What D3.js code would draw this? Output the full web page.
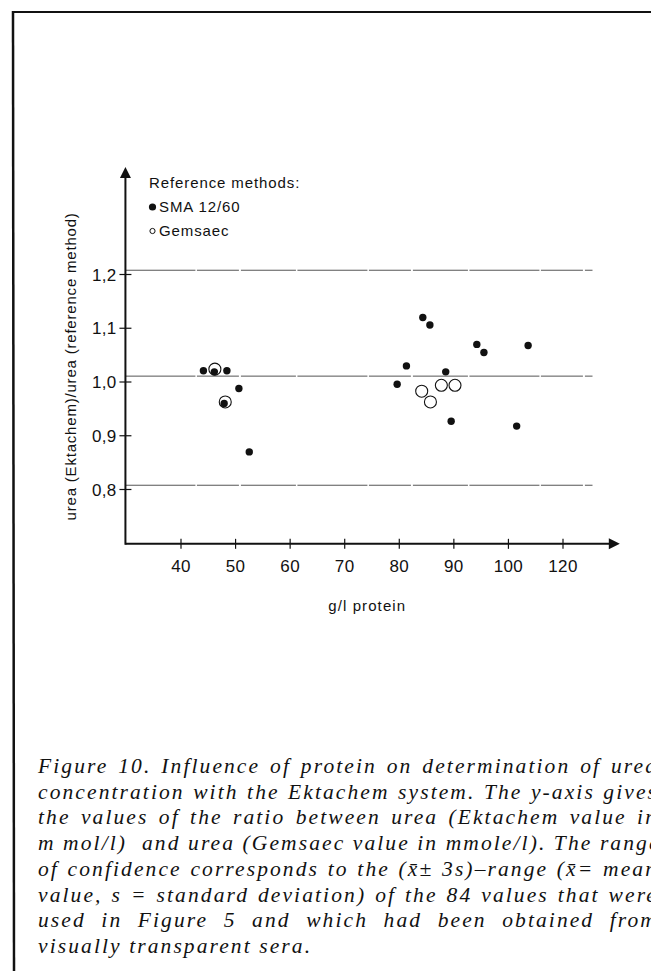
<!DOCTYPE html>
<html>
<head>
<meta charset="utf-8">
<script src="https://cdn.jsdelivr.net/npm/d3@7"></script>
<style>
  html, body { margin: 0; padding: 0; background: #fff; }
  svg { display: block; }
</style>
</head>
<body>
<svg id="chart" width="651" height="971"></svg>
<script>
// data (x in g/l protein, y = urea ratio)
var smaX = [44.2, 46.2, 48.5, 50.7, 48.0, 52.6,
            79.7, 81.4, 84.4, 85.7, 88.6, 89.6, 94.3, 95.6, 101.6, 103.7];
var smaY = [1.020, 1.018, 1.020, 0.987, 0.959, 0.869,
            0.995, 1.029, 1.119, 1.105, 1.018, 0.926, 1.069, 1.054, 0.917, 1.067];
var gemX = [46.3, 48.2, 84.2, 85.8, 87.8, 90.3];
var gemY = [1.023, 0.962, 0.982, 0.962, 0.993, 0.993];

// confidence range lines (mean - 3s, mean, mean + 3s)
var rangeLines = [0.807, 1.01, 1.207];

var xTicks = [40, 50, 60, 70, 80, 90, 100, 110];
var xTickLabels = ["40", "50", "60", "70", "80", "90", "100", "120"];
var yTicks = [0.8, 0.9, 1.0, 1.1, 1.2];
var yTickLabels = ["0,8", "0,9", "1,0", "1,1", "1,2"];

var legendTitle = "Reference methods:";
var legendItems = ["SMA 12/60", "Gemsaec"];

var xLabel = "g/l protein";
var yLabel = "urea (Ektachem)/urea (reference method)";

var captionLines = [
    "Figure 10. Influence of protein on determination of urea",
    "concentration with the Ektachem system. The y-axis gives",
    "the values of the ratio between urea (Ektachem value in",
    "m mol/l)  and urea (Gemsaec value in mmole/l). The range",
    "of confidence corresponds to the (x\u0304\u00b1 3s)\u2013range (x\u0304= mean",
    "value, s = standard deviation) of the 84 values that were",
    "used in Figure 5 and which had been obtained from",
    "visually transparent sera."
];

var svg = d3.select("#chart");
var sans = "'Liberation Sans', Arial, Helvetica, sans-serif";

var x = d3.scaleLinear().domain([40, 110]).range([180.5, 562.5]);
var y = d3.scaleLinear().domain([0.8, 1.2]).range([489, 274]);

var x0 = x(30) - 0.5, xEnd = x(120.5);
var y0 = y(0.698), yTop = y(1.399);

// page frame
svg.append("line").attr("x1", 12).attr("y1", 12).attr("x2", 651).attr("y2", 12)
    .attr("stroke", "#111").attr("stroke-width", 2.2);
svg.append("line").attr("x1", 13).attr("y1", 11).attr("x2", 14).attr("y2", 971)
    .attr("stroke", "#111").attr("stroke-width", 2.5);

// confidence lines
svg.selectAll(".range").data(rangeLines).enter().append("line")
    .attr("class", "range")
    .attr("x1", x0).attr("x2", x(115.5))
    .attr("y1", function(d) { return y(d); })
    .attr("y2", function(d) { return y(d); })
    .attr("stroke", "#555")
    .attr("stroke-width", 1)
    .attr("stroke-dasharray", "70,1.5,42,2,55,1.5");

// x axis
var xAxis = d3.axisBottom(x)
    .tickValues(xTicks)
    .tickFormat(function(d, i) { return xTickLabels[i]; })
    .tickSizeInner(5).tickSizeOuter(0);
var gx = svg.append("g").attr("transform", "translate(0," + y0 + ")").call(xAxis);
gx.select(".domain").remove();
gx.selectAll(".tick line").attr("y1", -5).attr("y2", 5).attr("stroke", "#111").attr("stroke-width", 1.2);
gx.selectAll(".tick text")
    .attr("y", 23).attr("dy", "0.32em")
    .attr("font-family", sans).attr("font-size", 17)
    .attr("letter-spacing", 0.4).attr("fill", "#111");

svg.append("line").attr("x1", x0).attr("x2", xEnd - 8)
    .attr("y1", y0).attr("y2", y0)
    .attr("stroke", "#111").attr("stroke-width", 2);
svg.append("path")
    .attr("d", "M" + xEnd + "," + y0 + " L" + (xEnd - 11) + "," + (y0 - 5.5) + " L" + (xEnd - 11) + "," + (y0 + 5.5) + " Z")
    .attr("fill", "#111");

// y axis
var yAxis = d3.axisLeft(y)
    .tickValues(yTicks)
    .tickFormat(function(d, i) { return yTickLabels[i]; })
    .tickSizeInner(5).tickSizeOuter(0);
var gy = svg.append("g").attr("transform", "translate(" + x0 + ",0)").call(yAxis);
gy.select(".domain").remove();
gy.selectAll(".tick line").attr("x1", -6).attr("x2", 6).attr("stroke", "#111").attr("stroke-width", 1.2);
gy.selectAll(".tick text")
    .attr("x", -9).attr("dy", "0.36em")
    .attr("font-family", sans).attr("font-size", 17)
    .attr("letter-spacing", 0.3).attr("fill", "#111");

svg.append("line").attr("x1", x0).attr("x2", x0)
    .attr("y1", y0 + 1).attr("y2", yTop + 8)
    .attr("stroke", "#111").attr("stroke-width", 2);
svg.append("path")
    .attr("d", "M" + x0 + "," + yTop + " L" + (x0 - 5.5) + "," + (yTop + 11) + " L" + (x0 + 5.5) + "," + (yTop + 11) + " Z")
    .attr("fill", "#111");

// axis titles
svg.append("text")
    .attr("x", (x(60) + x(80)) / 2 + 23).attr("y", y0 + 67)
    .attr("text-anchor", "middle")
    .attr("font-family", sans).attr("font-size", 15)
    .attr("letter-spacing", 1.1).attr("fill", "#111")
    .text(xLabel);

svg.append("text")
    .attr("transform", "translate(76," + ((y(1.0) + y(0.9)) / 2 - 42) + ") rotate(-90)")
    .attr("text-anchor", "middle")
    .attr("font-family", sans).attr("font-size", 15)
    .attr("letter-spacing", 0.8).attr("fill", "#111")
    .text(yLabel);

// points
svg.selectAll(".sma").data(smaX).enter().append("circle")
    .attr("class", "sma")
    .attr("cx", function(d) { return x(d); })
    .attr("cy", function(d, i) { return y(smaY[i]); })
    .attr("r", 3.7)
    .attr("fill", "#111");

svg.selectAll(".gem").data(gemX).enter().append("circle")
    .attr("class", "gem")
    .attr("cx", function(d) { return x(d); })
    .attr("cy", function(d, i) { return y(gemY[i]); })
    .attr("r", 6)
    .attr("fill", "none")
    .attr("stroke", "#111")
    .attr("stroke-width", 1.1);

// legend
var lg = svg.append("g").attr("transform", "translate(149,188)");
lg.append("text").attr("x", 0).attr("y", 0)
    .attr("font-family", sans).attr("font-size", 15)
    .attr("letter-spacing", 0.9).attr("fill", "#111")
    .text(legendTitle);
legendItems.forEach(function(name, i) {
    var ly = 24 + i * 23.5;
    if (i == 0) {
        lg.append("circle").attr("cx", 3.5).attr("cy", ly - 5).attr("r", 3.6).attr("fill", "#111");
    } else {
        lg.append("circle").attr("cx", 3.5).attr("cy", ly - 4.5).attr("r", 2.6)
            .attr("fill", "none").attr("stroke", "#111").attr("stroke-width", 1);
    }
    lg.append("text").attr("x", 10).attr("y", ly)
        .attr("font-family", sans).attr("font-size", 15)
        .attr("letter-spacing", 0.9).attr("fill", "#111")
        .text(name);
});

// caption, justified by word spacing
var capLeft = 38, capRight = 658;
var cap = svg.append("g");
captionLines.forEach(function(line, i) {
    var t = cap.append("text")
        .attr("x", capLeft).attr("y", 773 + i * 25.7)
        .attr("font-family", "'Liberation Serif', 'Times New Roman', serif")
        .attr("font-style", "italic")
        .attr("font-size", 21.5)
        .attr("letter-spacing", 2.1)
        .attr("fill", "#111")
        .attr("xml:space", "preserve")
        .style("white-space", "pre")
        .text(line);
    if (i < captionLines.length - 1) {
        var w = t.node().getComputedTextLength();
        var gaps = line.split(" ").length - 1;
        if (gaps > 0) t.attr("word-spacing", Math.max(0, (capRight - capLeft - w) / gaps));
    }
});
</script>
</body>
</html>
